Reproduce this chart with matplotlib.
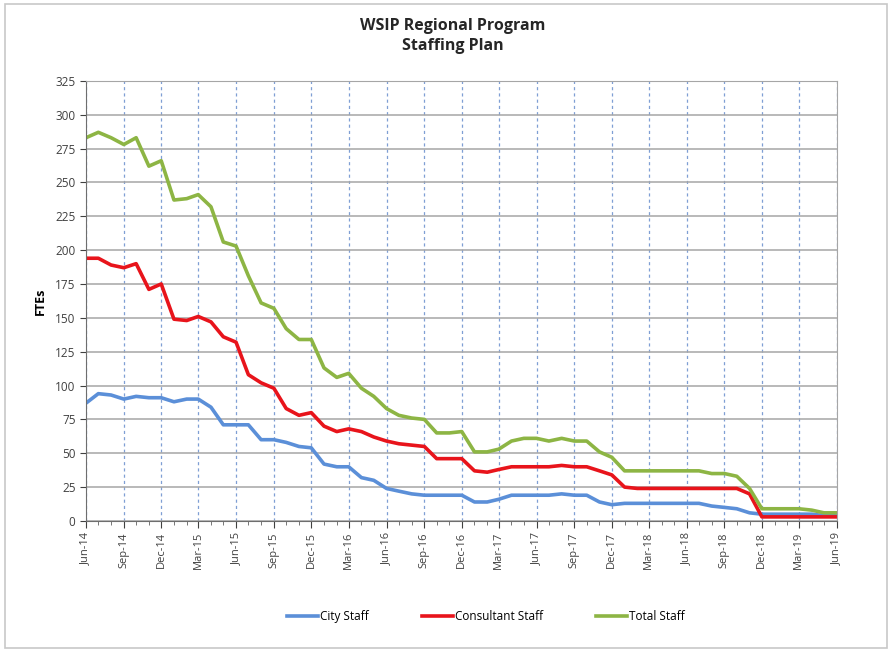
import numpy as np
import pandas as pd
import matplotlib
matplotlib.use("Agg")
from matplotlib import pyplot as plt
import matplotlib.dates as mdates
from matplotlib.patches import Rectangle

# monthly values, Jun-14 .. Jun-19
months = pd.date_range("2014-06-01", "2019-06-01", freq="MS")

city = [87, 94, 93, 90, 92, 91, 91, 88, 90, 90, 84, 71, 71, 71, 60, 60,
        58, 55, 54, 42, 40, 40, 32, 30, 24, 22, 20, 19, 19, 19, 19, 14,
        14, 16, 19, 19, 19, 19, 20, 19, 19, 14, 12, 13, 13, 13, 13, 13,
        13, 13, 11, 10, 9, 6, 5, 5, 5, 5, 5, 4, 4]
consultant = [194, 194, 189, 187, 190, 171, 175, 149, 148, 151, 147, 136, 132, 108, 102, 98,
              83, 78, 80, 70, 66, 68, 66, 62, 59, 57, 56, 55, 46, 46, 46, 37,
              36, 38, 40, 40, 40, 40, 41, 40, 40, 37, 34, 25, 24, 24, 24, 24,
              24, 24, 24, 24, 24, 20, 3, 3, 3, 3, 3, 3, 3]
total = [283, 287, 283, 278, 283, 262, 266, 237, 238, 241, 232, 206, 203, 181, 161, 157,
         142, 134, 134, 113, 106, 109, 98, 92, 83, 78, 76, 75, 65, 65, 66, 51,
         51, 53, 59, 61, 61, 59, 61, 59, 59, 51, 47, 37, 37, 37, 37, 37,
         37, 37, 35, 35, 33, 24, 9, 9, 9, 9, 8, 6, 6]

plt.rcParams['font.family'] = ['Open Sans', 'DejaVu Sans']

fig = plt.figure(figsize=(8.92, 6.52), dpi=100)
fig.patches.append(Rectangle((0.006, 0.006), 0.988, 0.988, transform=fig.transFigure,
                             fill=False, edgecolor='#c8c8c8', linewidth=1.2))
ax = fig.add_axes([0.0964, 0.201, 0.8416, 0.675])

ax.plot(months, city, color='#5b8fd8', linewidth=2.6, label='City Staff')
ax.plot(months, consultant, color='#e8141b', linewidth=2.6, label='Consultant Staff')
ax.plot(months, total, color='#8db544', linewidth=2.6, label='Total Staff')

ax.set_xlim(months[0], months[-1])
ax.set_ylim(0, 325)
ax.set_yticks(np.arange(0, 326, 25))
ax.xaxis.set_major_locator(mdates.MonthLocator(bymonth=[3, 6, 9, 12]))
ax.xaxis.set_minor_locator(mdates.MonthLocator())
ax.xaxis.set_major_formatter(mdates.DateFormatter('%b-%y'))
plt.setp(ax.get_xticklabels(), rotation=90)
ax.tick_params(axis='x', which='major', length=5, labelsize=8, colors='#404040', pad=3)
ax.tick_params(axis='x', which='minor', length=3, color='#606060')
ax.tick_params(axis='y', length=4, labelsize=8.5, colors='#404040')

ax.grid(axis='y', color='#a6a6a6', linewidth=1.1, linestyle='-')
ax.grid(axis='x', which='major', color='#7f9fd4', linewidth=0.9, linestyle=(0, (2.5, 2.5)))
ax.set_axisbelow(True)
for side in ['top', 'right']:
    ax.spines[side].set_color('#a6a6a6')
for side in ['left', 'bottom']:
    ax.spines[side].set_color('#6e6e6e')

ax.set_ylabel('FTEs', fontsize=9, fontweight='bold', labelpad=6)
fig.text(0.508, 0.945, 'WSIP Regional Program\nStaffing Plan', ha='center', va='center',
         fontsize=11.5, fontweight='bold', linespacing=1.35, color='#262626')

fig.legend(loc='center', bbox_to_anchor=(0.545, 0.055), ncol=3, frameon=False,
           fontsize=8.5, handlelength=2.6, handletextpad=0.2, columnspacing=4.5)

fig.savefig('out.png', dpi=100)
